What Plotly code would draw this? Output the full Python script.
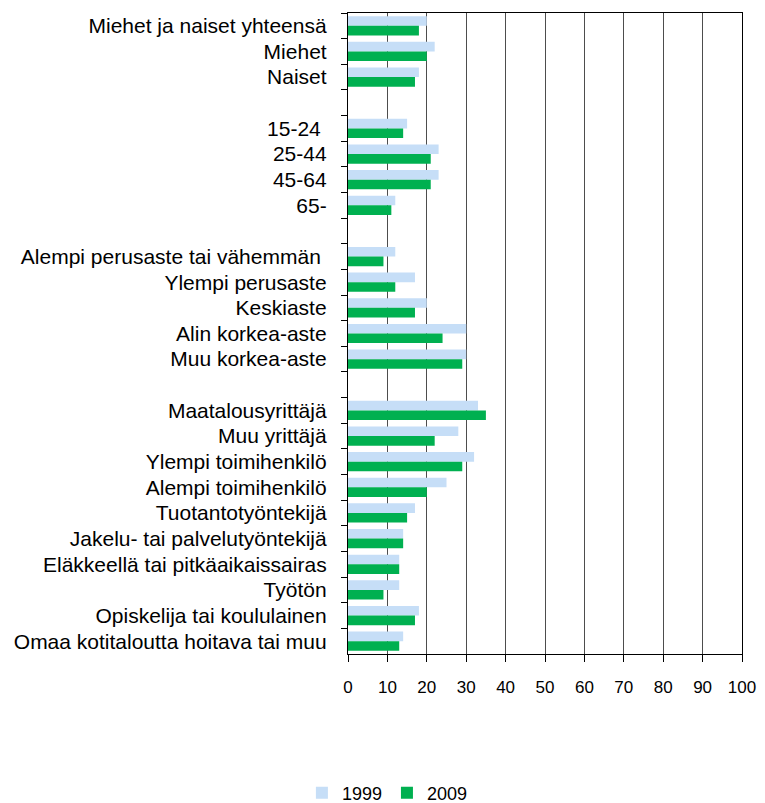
import plotly.graph_objects as go

categories = [
    "Miehet ja naiset yhteensä", "Miehet", "Naiset", "\u00a0",
    "15-24\u00a0", "25-44", "45-64", "65-", "\u00a0\u00a0",
    "Alempi perusaste tai vähemmän\u00a0", "Ylempi perusaste", "Keskiaste",
    "Alin korkea-aste", "Muu korkea-aste", "\u00a0\u00a0\u00a0",
    "Maatalousyrittäjä", "Muu yrittäjä", "Ylempi toimihenkilö",
    "Alempi toimihenkilö", "Tuotantotyöntekijä", "Jakelu- tai palvelutyöntekijä",
    "Eläkkeellä tai pitkäaikaissairas", "Työtön", "Opiskelija tai koululainen",
    "Omaa kotitaloutta hoitava tai muu",
]
values_1999 = [20, 22, 18, None, 15, 23, 23, 12, None, 12, 17, 20, 30, 30, None,
               33, 28, 32, 25, 17, 14, 13, 13, 18, 14]
values_2009 = [18, 20, 17, None, 14, 21, 21, 11, None, 9, 12, 17, 24, 29, None,
               35, 22, 29, 20, 15, 14, 13, 9, 17, 13]
x_ticks = list(range(0, 101, 10))

FONT = "Liberation Sans, Arial, sans-serif"

fig = go.Figure()
fig.add_trace(go.Bar(y=categories, x=values_1999, orientation="h", name="1999",
                     marker=dict(color="#C6DEF7", line=dict(width=0))))
fig.add_trace(go.Bar(y=categories, x=values_2009, orientation="h", name="2009",
                     marker=dict(color="#00B050", line=dict(width=0))))

fig.update_layout(
    width=757, height=795,
    barmode="group", bargap=0.25, bargroupgap=0.0,
    plot_bgcolor="white", paper_bgcolor="white",
    margin=dict(l=340, r=23, t=5, b=149, autoexpand=False),
    font=dict(family=FONT, size=18, color="#000000"),
    legend=dict(orientation="h", x=0.1, xanchor="center", y=-0.2168, yanchor="middle",
                font=dict(size=18), traceorder="normal", itemwidth=30,
                bgcolor="rgba(0,0,0,0)"),
    showlegend=True,
)
fig.update_xaxes(
    range=[0, 100], tickvals=x_ticks, ticktext=[str(v) for v in x_ticks],
    showgrid=True, gridcolor="#4d4d4d", gridwidth=1.4,
    showline=True, linecolor="#000000", linewidth=1.3, mirror=True,
    ticks="outside", ticklen=7, tickcolor="#000000", zeroline=False,
    tickfont=dict(size=17), automargin=False, ticklabelstandoff=10,
)
fig.update_yaxes(
    categoryorder="array", categoryarray=categories, autorange="reversed",
    tickson="boundaries", ticks="outside", ticklen=6, tickcolor="#000000",
    showline=True, linecolor="#000000", linewidth=1.3, mirror=True,
    showgrid=False, tickfont=dict(size=21), automargin=False, ticklabelstandoff=16,
)

fig.write_html("out.html")
